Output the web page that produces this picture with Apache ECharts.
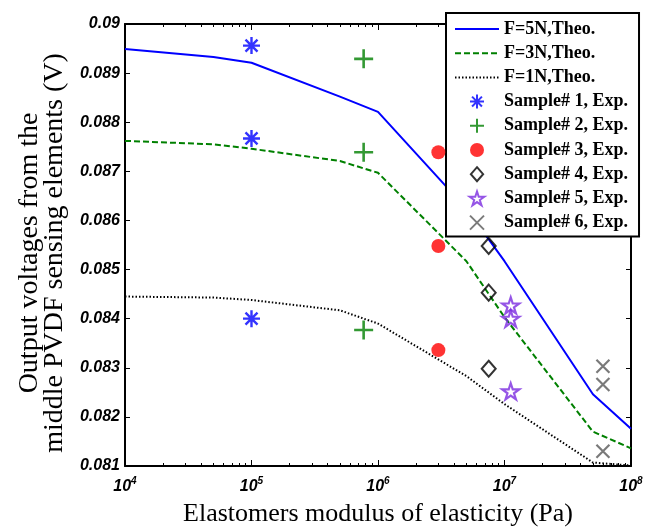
<!DOCTYPE html>
<html>
<head>
<meta charset="utf-8">
<script src="https://cdn.jsdelivr.net/npm/echarts@6/dist/echarts.min.js"></script>
<style>
  html, body { margin: 0; padding: 0; background: #fff; }
  #chart { width: 658px; height: 532px; }
</style>
</head>
<body>
<div id="chart"></div>
<script>
// ---- data ----
const eTheo = [1e4, 5e4, 1e5, 5e5, 1e6, 5e6, 1e7, 5e7, 1e8];
const v5N = [0.08949, 0.08933, 0.08921, 0.08852, 0.08821, 0.08624, 0.08517, 0.08246, 0.08176];
const v3N = [0.08762, 0.08755, 0.08746, 0.08721, 0.08697, 0.08517, 0.08403, 0.08170, 0.08136];
const v1N = [0.08445, 0.08443, 0.08438, 0.08417, 0.08390, 0.08283, 0.08226, 0.08107, 0.08101];

const eS1 = 1e5;    const vS1 = [0.08956, 0.08767, 0.08400];
const eS2 = 7.7e5;  const vS2 = [0.08929, 0.08739, 0.08377];
const eS3 = 3e6;    const vS3 = [0.08739, 0.08548, 0.08336];
const eS4 = 7.5e6;  const vS4 = [0.08548, 0.08453, 0.08298];
const eS5 = 1.12e7; const vS5 = [0.08427, 0.08400, 0.08252];
const eS6 = 6e7;    const vS6 = [0.08303, 0.08266, 0.08130];

const seriesNames = ['F=5N,Theo.', 'F=3N,Theo.', 'F=1N,Theo.',
  'Sample# 1, Exp.', 'Sample# 2, Exp.', 'Sample# 3, Exp.',
  'Sample# 4, Exp.', 'Sample# 5, Exp.', 'Sample# 6, Exp.'];

const xMajorTicks = [1e4, 1e5, 1e6, 1e7, 1e8];
const xMinorTicks = [2e4,3e4,4e4,5e4,6e4,7e4,8e4,9e4,
                     2e5,3e5,4e5,5e5,6e5,7e5,8e5,9e5,
                     2e6,3e6,4e6,5e6,6e6,7e6,8e6,9e6,
                     2e7,3e7,4e7,5e7,6e7,7e7,8e7,9e7];
const yMin = 0.081, yMax = 0.090, yStep = 0.001;

const xTitle = 'Elastomers modulus of elasticity (Pa)';
const yTitle = 'Output voltages from the\nmiddle PVDF sensing elements (V)';

// ---- helpers ----
const pairs = (xs, ys) => xs.map((x, i) => [x, ys[i]]);
const column = (x, ys) => ys.map(y => [x, y]);

const tickFont = { fontFamily: 'Liberation Sans', fontWeight: 'bold', fontStyle: 'italic', color: '#000' };
const legendFont = { fontFamily: 'Liberation Serif', fontWeight: 'bold', color: '#000' };

const STAR = 'path://M0,-100L22.45,-30.9L95.1,-30.9L36.3,11.8L58.8,80.9L0,38.2L-58.8,80.9L-36.3,11.8L-95.1,-30.9L-22.45,-30.9Z';
const ASTER = 'path://M0,-10L0,10M-10,0L10,0M-7.07,-7.07L7.07,7.07M-7.07,7.07L7.07,-7.07';
const PLUS = 'path://M0,-10L0,10M-10,0L10,0';
const CROSS = 'path://M-10,-10L10,10M-10,10L10,-10';
const DIAMOND = 'path://M0,-8L7,0L0,8L-7,0Z';

const chart = echarts.init(document.getElementById('chart'), null, { renderer: 'canvas' });

const commonX = { type: 'log', logBase: 10, min: 1e4, max: 1e8, gridIndex: 0 };

const legendData = seriesNames.map((n, i) => i < 3 ? { name: n, itemStyle: { opacity: 0 } } : { name: n });

const option = {
  animation: false,
  backgroundColor: '#fff',
  grid: { left: 125, right: 27, top: 24, bottom: 59, containLabel: false },
  xAxis: [
    Object.assign({}, commonX, {
      position: 'bottom',
      axisLine: { show: true, onZero: false, lineStyle: { color: '#000', width: 2 } },
      axisTick: { show: true, inside: true, length: 6, lineStyle: { color: '#000', width: 1 }, customValues: xMajorTicks },
      axisLabel: {
        show: true, margin: 10, customValues: xMajorTicks,
        formatter: v => '{b|10}{s|' + Math.round(Math.log10(v)) + '}',
        rich: {
          b: Object.assign({ fontSize: 16 }, tickFont),
          s: Object.assign({ fontSize: 10, padding: [0, 0, 11, 0] }, tickFont)
        }
      },
      splitLine: { show: false },
      minorTick: { show: false },
      name: xTitle, nameLocation: 'middle', nameGap: 35,
      nameTextStyle: { fontFamily: 'Liberation Serif', fontSize: 26, color: '#000' }
    }),
    Object.assign({}, commonX, {
      position: 'bottom',
      axisLine: { show: false, onZero: false },
      axisTick: { show: true, inside: true, length: 3, lineStyle: { color: '#000', width: 1 }, customValues: xMinorTicks },
      axisLabel: { show: false },
      splitLine: { show: false }
    }),
    Object.assign({}, commonX, {
      position: 'top',
      axisLine: { show: true, onZero: false, lineStyle: { color: '#000', width: 2 } },
      axisTick: { show: true, inside: true, length: 6, lineStyle: { color: '#000', width: 1 }, customValues: xMajorTicks },
      axisLabel: { show: false },
      splitLine: { show: false }
    }),
    Object.assign({}, commonX, {
      position: 'top',
      axisLine: { show: false, onZero: false },
      axisTick: { show: true, inside: true, length: 3, lineStyle: { color: '#000', width: 1 }, customValues: xMinorTicks },
      axisLabel: { show: false },
      splitLine: { show: false }
    })
  ],
  yAxis: [
    {
      type: 'value', min: yMin, max: yMax, interval: yStep, position: 'left',
      axisLine: { show: true, onZero: false, lineStyle: { color: '#000', width: 2 } },
      axisTick: { show: true, inside: true, length: 5, lineStyle: { color: '#000', width: 1 } },
      axisLabel: Object.assign({ fontSize: 16, margin: 5, formatter: v => String(+v.toFixed(3)) }, tickFont),
      splitLine: { show: false },
      name: yTitle, nameLocation: 'middle', nameGap: 55, nameRotate: 90,
      nameTextStyle: { fontFamily: 'Liberation Serif', fontSize: 28, lineHeight: 25, color: '#000', align: 'center', padding: [0, 16, 0, 0] }
    },
    {
      type: 'value', min: yMin, max: yMax, interval: yStep, position: 'right',
      axisLine: { show: true, onZero: false, lineStyle: { color: '#000', width: 2 } },
      axisTick: { show: true, inside: true, length: 5, lineStyle: { color: '#000', width: 1 } },
      axisLabel: { show: false },
      splitLine: { show: false }
    }
  ],
  legend: {
    orient: 'vertical',
    left: 446, top: 13,
    padding: [7, 11, 5, 8],
    itemWidth: 44, itemHeight: 14, itemGap: 6.2,
    backgroundColor: '#fff',
    borderColor: '#000', borderWidth: 2,
    textStyle: Object.assign({ fontSize: 18 }, legendFont),
    data: legendData
  },
  series: [
    { name: seriesNames[0], type: 'line', data: pairs(eTheo, v5N), symbol: 'none', showSymbol: false,
      lineStyle: { color: '#0000ff', width: 2, type: 'solid' }, itemStyle: { color: '#0000ff' }, z: 3 },
    { name: seriesNames[1], type: 'line', data: pairs(eTheo, v3N), symbol: 'none', showSymbol: false,
      lineStyle: { color: '#008000', width: 2, type: [6, 3] }, itemStyle: { color: '#008000' }, z: 3 },
    { name: seriesNames[2], type: 'line', data: pairs(eTheo, v1N), symbol: 'none', showSymbol: false,
      lineStyle: { color: '#000', width: 2, type: [1.5, 2] }, itemStyle: { color: '#000' }, z: 3 },
    { name: seriesNames[3], type: 'scatter', data: column(eS1, vS1), symbol: ASTER, symbolSize: 17,
      itemStyle: { color: '#0000ff', borderColor: '#0000ff', borderWidth: 2.4 }, z: 4 },
    { name: seriesNames[4], type: 'scatter', data: column(eS2, vS2), symbol: PLUS, symbolSize: 19,
      itemStyle: { color: '#008000', borderColor: '#008000', borderWidth: 2.6 }, z: 4 },
    { name: seriesNames[5], type: 'scatter', data: column(eS3, vS3), symbol: 'circle', symbolSize: 14,
      itemStyle: { color: '#ff0000', borderWidth: 0 }, z: 4 },
    { name: seriesNames[6], type: 'scatter', data: column(eS4, vS4), symbol: DIAMOND, symbolSize: 16, symbolKeepAspect: true,
      itemStyle: { color: 'rgba(255,255,255,0)', borderColor: '#000', borderWidth: 2 }, z: 4 },
    { name: seriesNames[7], type: 'scatter', data: column(eS5, vS5), symbol: STAR, symbolSize: 17, symbolKeepAspect: true,
      itemStyle: { color: 'rgba(255,255,255,0)', borderColor: '#7b2be0', borderWidth: 2.2 }, z: 4 },
    { name: seriesNames[8], type: 'scatter', data: column(eS6, vS6), symbol: CROSS, symbolSize: 13,
      itemStyle: { color: '#595959', borderColor: '#595959', borderWidth: 2.2 }, z: 4 }
  ]
};

chart.setOption(option);
</script>
</body>
</html>
